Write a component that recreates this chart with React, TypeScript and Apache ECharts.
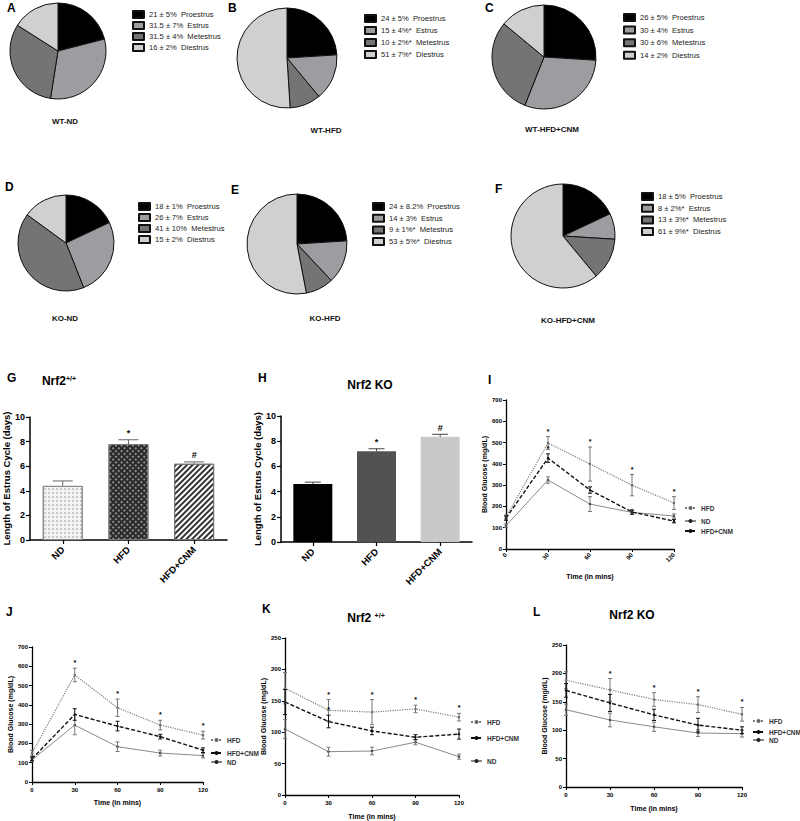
import React, { useEffect, useRef } from 'react';
import * as echarts from 'echarts';

const FONT = '"Liberation Sans", Arial, Helvetica, sans-serif';

// ---------- Pie data ----------
const stages = ['Proestrus', 'Estrus', 'Metestrus', 'Diestrus'];
const stageColors = ['#000000', '#9d9da1', '#747474', '#d0d0d0'];

const pieA = [21, 31.5, 31.5, 16];
const pieAText = ['21 ± 5%', '31.5 ± 7%', '31.5 ± 4%', '16 ± 2%'];
const pieB = [24, 15, 10, 51];
const pieBText = ['24 ± 5%', '15 ± 4%*', '10 ± 2%*', '51 ± 7%*'];
const pieC = [26, 30, 30, 14];
const pieCText = ['26 ± 5%', '30 ± 4%', '30 ± 6%', '14 ± 2%'];
const pieD = [18, 26, 41, 15];
const pieDText = ['18 ± 1%', '26 ± 7%', '41 ± 10%', '15 ± 2%'];
const pieE = [24, 14, 9, 53];
const pieEText = ['24 ± 8.2%', '14 ± 3%', '9 ± 1%*', '53 ± 5%*'];
const pieF = [18, 8, 13, 61];
const pieFText = ['18 ± 5%', '8 ± 2%*', '13 ± 3%*', '61 ± 9%*'];
const pieCaptions = ['WT-ND', 'WT-HFD', 'WT-HFD+CNM', 'KO-ND', 'KO-HFD', 'KO-HFD+CNM'];

// ---------- Bar data ----------
const barCats = ['ND', 'HFD', 'HFD+CNM'];
const gMeans = [4.4, 7.8, 6.2];
const gErr = [0.4, 0.35, 0.15];
const gMarks = ['', '*', '#'];
const hMeans = [4.6, 7.2, 8.35];
const hErr = [0.15, 0.2, 0.2];
const hMarks = ['', '*', '#'];

// ---------- Glucose data ----------
const times = [0, 30, 60, 90, 120];
const seriesNames = ['HFD', 'ND', 'HFD+CNM'];

const iHFD = [150, 498, 399, 300, 216];
const iHFDErr = [10, 30, 80, 50, 30];
const iHFDMarks = ['', '*', '*', '*', '*'];
const iND = [110, 324, 211, 172, 155];
const iNDErr = [8, 15, 35, 10, 10];
const iCNM = [145, 427, 277, 174, 131];
const iCNMErr = [10, 20, 15, 10, 8];
const iCNMMarks = ['', '*', '', '', ''];

const jHFD = [150, 555, 385, 295, 243];
const jHFDErr = [15, 35, 45, 25, 20];
const jHFDMarks = ['', '*', '*', '*', '*'];
const jND = [115, 295, 183, 150, 137];
const jNDErr = [10, 50, 25, 15, 12];
const jCNM = [120, 350, 290, 235, 165];
const jCNMErr = [10, 30, 25, 12, 12];

const kHFD = [170, 135, 132, 137, 124];
const kHFDErr = [25, 17, 20, 6, 6];
const kHFDMarks = ['', '*', '*', '*', '*'];
const kND = [105, 69, 70, 84, 61];
const kNDErr = [15, 7, 6, 4, 4];
const kCNM = [148, 117, 102, 92, 97];
const kCNMErr = [20, 10, 6, 4, 8];
const kCNMMarks = ['', '*', '', '', ''];

const lHFD = [188, 171, 154, 145, 128];
const lHFDErr = [15, 20, 12, 14, 12];
const lHFDMarks = ['', '*', '*', '*', '*'];
const lND = [136, 118, 106, 95, 94];
const lNDErr = [10, 12, 8, 6, 6];
const lCNM = [170, 148, 127, 109, 100];
const lCNMErr = [12, 15, 10, 12, 6];

const noMarks = ['', '', '', '', ''];

// ---------- helpers ----------
const txt = (size: number, weight: any = 'bold', color = '#000') => ({
  fontFamily: FONT,
  fontSize: size,
  fontWeight: weight,
  color,
});

function errSeries(
  name: string,
  axis: number,
  xs: number[],
  means: number[],
  errs: number[],
  marks: string[],
  color: string,
  capHalf: number,
  upOnly: boolean,
  markSize: number
) {
  return {
    type: 'custom',
    name,
    xAxisIndex: axis,
    yAxisIndex: axis,
    silent: true,
    z: 4,
    itemStyle: { color: '#000' },
    data: xs.map((x, i) => [x, upOnly ? means[i] : means[i] - errs[i], means[i] + errs[i]]),
    renderItem: (params: any, api: any) => {
      const x = api.value(0);
      const lo = api.coord([x, api.value(1)]);
      const hi = api.coord([x, api.value(2)]);
      const st = { stroke: color, lineWidth: 1, fill: null };
      const children: any[] = [
        { type: 'line', shape: { x1: hi[0], y1: hi[1], x2: lo[0], y2: lo[1] }, style: st },
        { type: 'line', shape: { x1: hi[0] - capHalf, y1: hi[1], x2: hi[0] + capHalf, y2: hi[1] }, style: st },
      ];
      if (!upOnly) {
        children.push({ type: 'line', shape: { x1: lo[0] - capHalf, y1: lo[1], x2: lo[0] + capHalf, y2: lo[1] }, style: st });
      }
      const m = marks[params.dataIndex];
      if (m) {
        children.push({
          type: 'text',
          x: hi[0],
          y: hi[1] - 2,
          style: {
            text: m,
            align: 'center',
            verticalAlign: 'bottom',
            fill: '#000',
            stroke: null,
            font: `bold ${markSize}px ${FONT}`,
          },
        });
      }
      return { type: 'group', children };
    },
  };
}

const lineStyles: Record<string, any> = {
  HFD: { color: '#7c7c7c', width: 1.2, type: 'dotted', sym: 2.5, dot: '#666' },
  ND: { color: '#8a8a8a', width: 1, type: 'solid', sym: 2.5, dot: '#222' },
  'HFD+CNM': { color: '#111111', width: 1.4, type: [4, 2], sym: 2.5, dot: '#111' },
};

function lineSeries(name: string, axis: number, vals: number[]) {
  const s = lineStyles[name];
  return {
    type: 'line',
    name,
    xAxisIndex: axis,
    yAxisIndex: axis,
    silent: true,
    z: 3,
    data: times.map((t, i) => [t, vals[i]]),
    symbol: 'circle',
    symbolSize: s.sym,
    lineStyle: { color: s.color, width: s.width, type: s.type },
    itemStyle: { color: s.dot },
  };
}

export default function App() {
  const ref = useRef<HTMLDivElement>(null);

  useEffect(() => {
    document.body.style.margin = '0';
    if (!ref.current) return;
    const chart = echarts.init(ref.current, undefined, { renderer: 'svg' });

    const pies = [
      { vals: pieA, t: pieAText, c: [58, 51], r: 48, lg: [127, 5], gap: 2, L: 'A', lp: [7, 8], cp: [65, 121] },
      { vals: pieB, t: pieBText, c: [287, 58], r: 50, lg: [359, 9], gap: 3, L: 'B', lp: [228, 8], cp: [326, 130] },
      { vals: pieC, t: pieCText, c: [544, 57], r: 52, lg: [618, 8], gap: 3.6, L: 'C', lp: [485, 8], cp: [552, 129] },
      { vals: pieD, t: pieDText, c: [66, 243], r: 48, lg: [133, 197], gap: 2, L: 'D', lp: [5, 187], cp: [65, 318] },
      { vals: pieE, t: pieEText, c: [297, 244], r: 50, lg: [367, 197], gap: 2.7, L: 'E', lp: [231, 190], cp: [325, 318] },
      { vals: pieF, t: pieFText, c: [563, 236], r: 52, lg: [636, 187], gap: 2.7, L: 'F', lp: [495, 189], cp: [568, 320] },
    ];

    const series: any[] = [];
    const legends: any[] = [];
    const graphics: any[] = [];

    pies.forEach((p, k) => {
      const names = p.vals.map((_, i) => `${p.t[i]}  ${stages[i]}`);
      series.push({
        type: 'pie',
        name: 'pie' + p.L,
        center: p.c,
        radius: p.r,
        startAngle: 90,
        clockwise: true,
        silent: true,
        label: { show: false },
        labelLine: { show: false },
        emphasis: { disabled: true },
        itemStyle: { borderColor: '#111', borderWidth: 1 },
        data: p.vals.map((v, i) => ({ name: names[i], value: v, itemStyle: { color: stageColors[i] } })),
      });
      legends.push({
        left: p.lg[0],
        top: p.lg[1],
        orient: 'vertical',
        icon: 'rect',
        itemWidth: 11,
        itemHeight: 7,
        itemGap: p.gap,
        selectedMode: false,
        data: names,
        textStyle: { ...txt(7.6, 'normal', '#222'), lineHeight: 8 },
      });
      graphics.push({
        type: 'text',
        x: p.lp[0],
        y: p.lp[1],
        style: { text: p.L, font: `bold 12px ${FONT}`, fill: '#000', align: 'left', verticalAlign: 'middle' },
      });
      graphics.push({
        type: 'text',
        x: p.cp[0],
        y: p.cp[1],
        style: { text: pieCaptions[k], font: `bold 8px ${FONT}`, fill: '#111', align: 'center', verticalAlign: 'middle' },
      });
    });

    const letters: [string, number, number][] = [
      ['G', 7, 378], ['H', 258, 378], ['I', 488, 380], ['J', 6, 612], ['K', 262, 609], ['L', 533, 612],
    ];
    letters.forEach(([l, x, y]) =>
      graphics.push({ type: 'text', x, y, style: { text: l, font: `bold 12px ${FONT}`, fill: '#000', align: 'left', verticalAlign: 'middle' } })
    );
    const titleRich = {
      a: { font: `bold 12px ${FONT}`, fill: '#000' },
      b: { font: `bold 7px ${FONT}`, fill: '#000', verticalAlign: 'top' },
    };
    graphics.push({ type: 'text', x: 59, y: 381, style: { text: '{a|Nrf2}{b|+/+}', rich: titleRich, align: 'center', verticalAlign: 'middle' } });
    graphics.push({ type: 'text', x: 370, y: 385, style: { text: '{a|Nrf2 KO}', rich: titleRich, align: 'center', verticalAlign: 'middle' } });
    graphics.push({ type: 'text', x: 366, y: 618, style: { text: '{a|Nrf2 }{b|+/+}', rich: titleRich, align: 'center', verticalAlign: 'middle' } });
    graphics.push({ type: 'text', x: 632, y: 615, style: { text: '{a|Nrf2 KO}', rich: titleRich, align: 'center', verticalAlign: 'middle' } });

    const grids = [
      { left: 29, top: 417, width: 198, height: 123 },
      { left: 281, top: 416, width: 191, height: 126 },
      { left: 506, top: 400, width: 168, height: 149 },
      { left: 32, top: 647, width: 171, height: 135 },
      { left: 285, top: 638, width: 174, height: 157 },
      { left: 566, top: 645, width: 176, height: 142 },
    ];

    const axisLine = { show: true, lineStyle: { color: '#000', width: 1.5 } };
    const xAxes: any[] = [];
    const yAxes: any[] = [];
    [0, 1].forEach((g) => {
      xAxes.push({
        type: 'category',
        gridIndex: g,
        data: barCats,
        axisLine,
        axisTick: { show: true, alignWithLabel: true, length: 4, lineStyle: { color: '#000', width: 1.2 } },
        axisLabel: { ...txt(9.5), rotate: 45, margin: 8 },
      });
      yAxes.push({
        type: 'value',
        gridIndex: g,
        min: 0,
        max: 10,
        interval: 2,
        axisLine,
        axisTick: { show: true, length: 4, lineStyle: { color: '#000', width: 1.2 } },
        splitLine: { show: false },
        axisLabel: { ...txt(9), margin: 5 },
        name: 'Length of Estrus Cycle (days)',
        nameLocation: 'middle',
        nameGap: 17,
        nameTextStyle: txt(9.5),
      });
    });
    const lineAxes = [
      { g: 2, ymax: 700, yint: 100, rot: 45, xGap: 24, yGap: 16 },
      { g: 3, ymax: 700, yint: 100, rot: 0, xGap: 17, yGap: 16 },
      { g: 4, ymax: 250, yint: 50, rot: 0, xGap: 18, yGap: 14 },
      { g: 5, ymax: 250, yint: 50, rot: 0, xGap: 18, yGap: 16 },
    ];
    lineAxes.forEach((a) => {
      xAxes.push({
        type: 'value',
        gridIndex: a.g,
        min: 0,
        max: 120,
        interval: 30,
        axisLine: { show: true, onZero: false, lineStyle: { color: '#000', width: 1.3 } },
        axisTick: { show: true, length: 3, lineStyle: { color: '#000' } },
        splitLine: { show: false },
        axisLabel: { ...txt(6), rotate: a.rot, margin: 5 },
        name: 'Time (in mins)',
        nameLocation: 'middle',
        nameGap: a.xGap,
        nameTextStyle: txt(7),
      });
      yAxes.push({
        type: 'value',
        gridIndex: a.g,
        min: 0,
        max: a.ymax,
        interval: a.yint,
        axisLine: { show: true, lineStyle: { color: '#000', width: 1.3 } },
        axisTick: { show: true, length: 3, lineStyle: { color: '#000' } },
        splitLine: { show: false },
        axisLabel: { ...txt(6), margin: 4 },
        name: 'Blood Glucose (mg/dL)',
        nameLocation: 'middle',
        nameGap: a.yGap,
        nameTextStyle: txt(7),
      });
    });

    const gStyles = [
      {
        color: '#f2f2f2', borderColor: '#888', borderWidth: 1,
        decal: { symbol: 'circle', symbolSize: 0.7, color: '#8a8a8a', dashArrayX: [1.5, 1.5], dashArrayY: [1.5, 1.5] },
      },
      {
        color: '#2a2a2a', borderColor: '#777', borderWidth: 1,
        decal: { symbol: 'rect', symbolSize: 1, color: '#8c8c8c', dashArrayX: [1.5, 1.5], dashArrayY: [1.5, 1.5], rotation: Math.PI / 4 },
      },
      {
        color: '#ffffff', borderColor: '#777', borderWidth: 1,
        decal: { symbol: 'rect', symbolSize: 1, color: '#333', dashArrayX: [1, 0], dashArrayY: [1.2, 1.6], rotation: -Math.PI / 4 },
      },
    ];
    series.push({
      type: 'bar',
      name: 'G bars',
      xAxisIndex: 0,
      yAxisIndex: 0,
      barWidth: 40,
      silent: true,
      data: gMeans.map((v, i) => ({ value: v, itemStyle: gStyles[i] })),
    });
    series.push(errSeries('G err', 0, [0, 1, 2], gMeans, gErr, gMarks, '#666', 10, true, 9));

    const hColors = ['#000000', '#525252', '#c9c9c9'];
    series.push({
      type: 'bar',
      name: 'H bars',
      xAxisIndex: 1,
      yAxisIndex: 1,
      barWidth: 39,
      silent: true,
      data: hMeans.map((v, i) => ({ value: v, itemStyle: { color: hColors[i] } })),
    });
    series.push(errSeries('H err', 1, [0, 1, 2], hMeans, hErr, hMarks, '#444', 8, true, 9));

    const panels = [
      { g: 2, HFD: [iHFD, iHFDErr, iHFDMarks], ND: [iND, iNDErr, noMarks], CNM: [iCNM, iCNMErr, iCNMMarks] },
      { g: 3, HFD: [jHFD, jHFDErr, jHFDMarks], ND: [jND, jNDErr, noMarks], CNM: [jCNM, jCNMErr, noMarks] },
      { g: 4, HFD: [kHFD, kHFDErr, kHFDMarks], ND: [kND, kNDErr, noMarks], CNM: [kCNM, kCNMErr, kCNMMarks] },
      { g: 5, HFD: [lHFD, lHFDErr, lHFDMarks], ND: [lND, lNDErr, noMarks], CNM: [lCNM, lCNMErr, noMarks] },
    ];
    panels.forEach((p) => {
      const defs: [string, any[], string][] = [
        ['HFD', p.HFD, '#777'],
        ['ND', p.ND, '#777'],
        ['HFD+CNM', p.CNM, '#111'],
      ];
      defs.forEach(([nm, d, ec]) => {
        series.push(lineSeries(nm, p.g, d[0]));
        series.push(errSeries(`${nm} err ${p.g}`, p.g, times, d[0], d[1], d[2], ec, 2, false, 7));
      });
    });

    const lineLegendPos: { x: number; ys: Record<string, number> }[] = [
      { x: 679, ys: { HFD: 503, ND: 516, 'HFD+CNM': 526 } },
      { x: 205, ys: { HFD: 735, 'HFD+CNM': 748, ND: 757 } },
      { x: 465, ys: { HFD: 717, 'HFD+CNM': 733, ND: 756 } },
      { x: 747, ys: { HFD: 716, 'HFD+CNM': 727, ND: 735 } },
    ];
    lineLegendPos.forEach((lp) => {
      seriesNames.forEach((nm) => {
        legends.push({
          left: lp.x,
          top: lp.ys[nm] - 4,
          orient: 'vertical',
          itemWidth: 11,
          itemHeight: 5,
          itemGap: 0,
          selectedMode: false,
          data: [nm],
          textStyle: { ...txt(6.5, 'bold', '#333'), lineHeight: 8 },
        });
      });
    });

    chart.setOption({
      animation: false,
      backgroundColor: '#ffffff',
      grid: grids.map((g) => ({ ...g, containLabel: false })),
      xAxis: xAxes,
      yAxis: yAxes,
      legend: legends,
      series,
      graphic: graphics,
    });

    return () => chart.dispose();
  }, []);

  return <div ref={ref} style={{ width: 800, height: 821 }} />;
}
